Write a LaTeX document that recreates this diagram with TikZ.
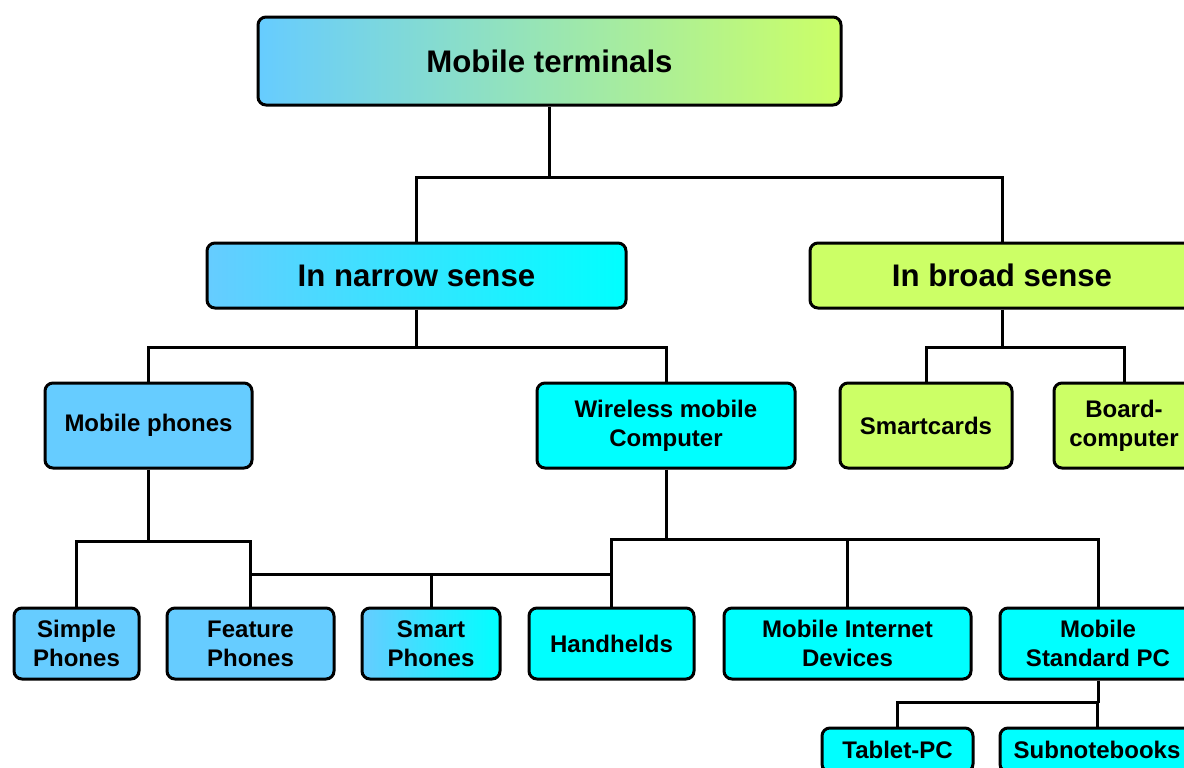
\documentclass[tikz,border=0pt]{standalone}
\usepackage{fontspec}
\setmainfont{Liberation Sans}
\usepackage{xcolor}

\definecolor{phoneblue}{HTML}{66CCFF}
\definecolor{compcyan}{HTML}{00FFFF}
\definecolor{broadlime}{HTML}{CCFF66}

\tikzset{
    box/.style={draw=black, line width=1.5pt, rounded corners=4pt, inner sep=0pt, align=center,
        font=\fontsize{12}{14.5}\selectfont\bfseries},
    bigbox/.style={box, font=\fontsize{15.6}{18}\selectfont\bfseries},
    link/.style={line width=1.5pt},
}

\begin{document}
\begin{tikzpicture}[x=0.5pt,y=-0.5pt]
    \useasboundingbox (0,0) rectangle (1184,767);
    \clip (0,0) rectangle (1184,767);

    % top levels
    \node[bigbox, left color=phoneblue, right color=broadlime, minimum width=291.5pt, minimum height=44pt] (root) at (549.5,61) {Mobile terminals};
    \node[bigbox, left color=phoneblue, right color=compcyan, minimum width=209.5pt, minimum height=32.5pt] (narrow) at (416.5,275.5) {In narrow sense};
    \node[bigbox, fill=broadlime, minimum width=192pt, minimum height=32.5pt] (broad) at (1002,275.5) {In broad sense};

    % second level
    \node[box, fill=phoneblue, minimum width=103.5pt, minimum height=42.5pt] (phones) at (148.5,425.5) {Mobile phones};
    \node[box, fill=compcyan, minimum width=129pt, minimum height=42.5pt] (wireless) at (666,425.5) {Wireless mobile\\Computer};
    \node[box, fill=broadlime, minimum width=86pt, minimum height=42.5pt] (cards) at (926,425.5) {Smartcards};
    \node[box, fill=broadlime, minimum width=70pt, minimum height=42.5pt] (board) at (1124,425.5) {Board-\\computer};

    % third level
    \node[box, fill=phoneblue, minimum width=62.5pt, minimum height=35.5pt] (simple) at (76.5,643.5) {Simple\\Phones};
    \node[box, fill=phoneblue, minimum width=83.5pt, minimum height=35.5pt] (feature) at (250.5,643.5) {Feature\\Phones};
    \node[box, left color=phoneblue, right color=compcyan, minimum width=69pt, minimum height=35.5pt] (smart) at (431,643.5) {Smart\\Phones};
    \node[box, fill=compcyan, minimum width=82.5pt, minimum height=35.5pt] (hand) at (611.5,643.5) {Handhelds};
    \node[box, fill=compcyan, minimum width=123.5pt, minimum height=35.5pt] (mid) at (847.5,643.5) {Mobile Internet\\Devices};
    \node[box, fill=compcyan, minimum width=98pt, minimum height=35.5pt] (mspc) at (1098,643.5) {Mobile\\Standard PC};

    % fourth level
    \node[box, fill=compcyan, minimum width=75.5pt, minimum height=22pt] (tablet) at (897.5,750) {Tablet-PC};
    \node[box, fill=compcyan, minimum width=97pt, minimum height=22pt] (subnb) at (1097,750) {Subnotebooks};

    % connectors
    \draw[link] (root.south) -- ++(0,71) coordinate (rootbar);
    \draw[link] (narrow.north) |- (rootbar) -| (broad.north);

    \draw[link] (narrow.south) -- ++(0,38) coordinate (nbar);
    \draw[link] (phones.north) |- (nbar) -| (wireless.north);

    \draw[link] (broad.south) -- ++(0,38) coordinate (bbar);
    \draw[link] (cards.north) |- (bbar) -| (board.north);

    \draw[link] (phones.south) -- ++(0,72) coordinate (pbar);
    \draw[link] (simple.north) |- (pbar) -| (feature.north);

    \draw[link] (wireless.south) -- ++(0,70) coordinate (wbar);
    \draw[link] (hand.north) |- (wbar) -| (mspc.north);
    \draw[link] (mid.north) -- (mid.north |- wbar);

    \coordinate (cross) at (431,574);
    \draw[link] (smart.north) -- (cross);
    \draw[link] (feature.north |- cross) -- (hand.north |- cross);

    \draw[link] (mspc.south) -- ++(0,22) coordinate (mbar);
    \draw[link] (tablet.north) |- (mbar) -| (subnb.north);
\end{tikzpicture}
\end{document}
